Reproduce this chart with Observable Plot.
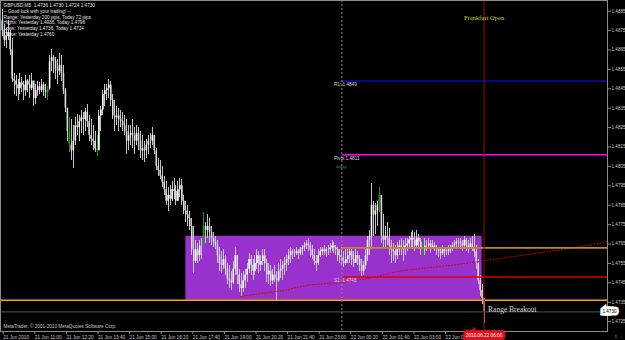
<!DOCTYPE html>
<html><head><meta charset="utf-8">
<script src="https://cdn.jsdelivr.net/npm/d3@7"></script>
<script src="https://cdn.jsdelivr.net/npm/@observablehq/plot@0.6"></script>
<style>
html,body{margin:0;padding:0;background:#000;}
#chart{width:625px;height:340px;overflow:hidden;}
</style></head><body><div id="chart"></div>
<script>
// ---- header text ----
const infoLines = [
  "GBPUSD,M5  1.4736 1.4730 1.4724 1.4730",
  "-- Good luck with your trading! --",
  "Range: Yesterday 200 pips, Today 72 pips",
  "Highs: Yesterday 1.4936, Today 1.4796",
  "Lows: Yesterday 1.4736, Today 1.4724",
  "Close: Yesterday 1.4760"
];
const copyright = "MetaTrader, © 2001-2010 MetaQuotes Software Corp.";

// ---- M5 bars (pips above 1.4700), first bar 21 Jun 2010 09:40 ----
const basePrice = 1.47;
const startTime = Date.UTC(2010, 5, 21, 9, 40);
const barMinutes = 5;
const firstOpenPips = 180;
const highPips = [
  186,178,176,180,175,171,153,152,150,153, 151,149,152,150,152,153,149,147,149,148,
  150,148,147,146,162,165,162,161,160,163, 162,157,145,131,130,129,126,130,132,131,
  134,133,135,137,131,129,126,123,121,134, 136,144,147,147,150,149,142,139,136,135,
  134,133,131,129,126,126,129,125,126,125, 123,121,118,119,121,122,125,121,114,109,
  108,105,100,97,94,95,97,99,95,97,        99,98,90,87,85,82,78,74,67,65,
  67,68,81,76,80,78,74,71,69,67,           63,61,62,59,55,54,51,56,63,59,
  52,50,51,52,55,60,59,57,59,62,           61,59,62,62,57,55,54,52,54,51,
  55,57,56,58,59,62,63,62,62,63,           62,63,64,66,67,68,66,64,62,59,
  62,63,63,64,63,64,65,67,66,64,           63,62,63,61,62,62,63,62,61,62,
  61,59,57,56,62,69,72,96,87,86,           87,94,86,80,74,76,73,67,65,64,
  66,67,68,67,68,68,69,71,72,71,           72,70,68,67,68,67,68,67,67,66,
  64,63,63,64,63,63,64,64,66,67,           68,68,68,67,69,68,67,68,69,70,
  64,57,49,44,37
];
const lowPips = [
  172,167,166,170,162,148,142,141,139,142, 143,139,141,143,140,144,136,137,141,142,
  143,141,140,139,144,154,153,150,147,152, 149,142,133,118,112,108,104,116,121,118,
  122,121,123,125,118,116,113,112,110,118, 123,131,136,139,140,136,129,123,126,123,
  125,123,121,111,113,116,114,111,116,113, 109,108,107,109,111,114,116,111,103,100,
  98,94,90,85,82,85,87,88,85,87,           89,85,80,76,74,72,59,50,55,55,
  56,57,66,65,68,65,64,63,62,55,           51,50,52,49,44,42,41,44,49,44,
  40,38,40,42,45,50,49,46,49,52,           50,51,54,51,45,44,43,44,45,36,
  45,47,46,49,51,54,55,57,58,59,           57,59,59,61,62,61,58,57,54,51,
  54,58,59,59,58,59,60,61,60,59,           56,55,54,53,54,55,55,54,53,55,
  54,51,48,49,52,56,59,62,69,70,           74,81,65,63,62,64,59,55,56,55,
  57,59,59,56,59,61,62,63,62,61,           63,62,59,58,59,61,62,60,62,61,
  59,58,57,59,58,59,59,60,61,62,           62,63,62,61,62,61,60,62,61,58,
  52,44,38,34,24
];
const closePips = [
  175,170,172,174,165,150,149,147,145,148, 147,144,149,147,145,149,140,144,146,144,
  147,144,143,145,159,161,159,155,154,157, 153,144,135,123,116,113,118,126,125,128,
  130,129,133,128,121,119,118,114,113,131, 134,142,144,145,147,139,131,130,131,129,
  128,126,123,118,121,122,121,118,122,118, 113,114,113,116,118,118,121,113,105,103,
  100,97,93,87,90,88,93,92,87,93,          95,87,82,80,78,74,62,56,62,59,
  64,64,74,72,74,71,68,66,64,59,           55,54,57,52,47,46,45,52,59,49,
  44,42,46,49,52,57,54,51,55,59,           54,56,59,55,49,51,46,49,47,46,
  51,52,54,55,57,59,61,60,60,61,           60,62,63,64,65,64,62,59,56,55,
  59,61,62,61,62,62,63,64,63,62,           59,58,56,55,57,59,61,57,55,59,
  57,54,51,54,59,67,69,85,80,82,           85,90,69,67,69,68,64,62,61,59,
  62,64,63,62,64,65,67,68,67,64,           68,66,63,62,64,64,65,63,64,63,
  62,61,60,62,61,61,62,63,64,65,           66,66,65,64,67,64,63,65,63,61,
  55,46,41,37,30
];
const greenBars = [23, 34, 48, 102, 191, 213];

// ---- levels ----
const levelNames = ["R1:", "Pivot", "S1:"];
const levelPrices = [1.4849, 1.4811, 1.4748];
const levelColors = ["#0c0ca0", "#ff00ff", "#e00000"];
const todayOpenPrice = 1.4763;
const yesterdayLow = 1.4736;
const currentPrice = 1.4730;
const rangeStart = Date.UTC(2010, 5, 21, 17, 25);
const rangeEnd = Date.UTC(2010, 5, 22, 5, 55);
const rangeHigh = 1.4769;
const rangeLow = 1.4736;
const dayStart = Date.UTC(2010, 5, 22, 0, 0);
const frankfurtOpen = Date.UTC(2010, 5, 22, 6, 0);

// ---- dotted red curve ----
const curveTimes = [
  Date.UTC(2010,5,21,19,45), Date.UTC(2010,5,21,21,30), Date.UTC(2010,5,21,22,40),
  Date.UTC(2010,5,21,23,55), Date.UTC(2010,5,22,1,0), Date.UTC(2010,5,22,2,25),
  Date.UTC(2010,5,22,4,35), Date.UTC(2010,5,22,5,50), Date.UTC(2010,5,22,7,30),
  Date.UTC(2010,5,22,9,15), Date.UTC(2010,5,22,11,10)
];
const curvePips = [38, 41, 44, 45, 47, 51, 54, 56, 59, 62, 66];

// ---- axes ----
const yTicks = [1.4725,1.4735,1.4745,1.4755,1.4765,1.4775,1.4785,1.4795,1.4805,1.4815,1.4825,1.4835,1.4845,1.4855,1.4865,1.4875,1.4885];
const xTickTimes = [
  Date.UTC(2010,5,21,9,40), Date.UTC(2010,5,21,11,0), Date.UTC(2010,5,21,12,20),
  Date.UTC(2010,5,21,13,40), Date.UTC(2010,5,21,15,0), Date.UTC(2010,5,21,16,20),
  Date.UTC(2010,5,21,17,40), Date.UTC(2010,5,21,19,0), Date.UTC(2010,5,21,20,20),
  Date.UTC(2010,5,21,21,40), Date.UTC(2010,5,21,23,0), Date.UTC(2010,5,22,0,20),
  Date.UTC(2010,5,22,1,40), Date.UTC(2010,5,22,3,0), Date.UTC(2010,5,22,4,20)
];
const xTickLabels = [
  "21 Jun 2010","21 Jun 11:00","21 Jun 12:20","21 Jun 13:40","21 Jun 15:00","21 Jun 16:20",
  "21 Jun 17:40","21 Jun 19:00","21 Jun 20:20","21 Jun 21:40","21 Jun 23:00","22 Jun 00:20",
  "22 Jun 01:40","22 Jun 03:00","22 Jun 04:20"
];
const xDomain = [new Date(Date.UTC(2010,5,21,9,35,40)), new Date(Date.UTC(2010,5,22,11,12,30))];
const yDomain = [1.47199, 1.48905];

// ---- build tables ----
const bars = highPips.map((h, i) => {
  const open = basePrice + (i ? closePips[i-1] : firstOpenPips) / 1e4;
  const close = basePrice + closePips[i] / 1e4;
  return {
    t: new Date(startTime + i * barMinutes * 60000),
    open, close,
    high: Math.max(basePrice + h / 1e4, open, close),
    low: Math.min(basePrice + lowPips[i] / 1e4, open, close),
    up: close >= open,
    green: greenBars.includes(i)
  };
});
const levels = levelNames.map((n, i) => ({name: n, price: levelPrices[i], color: levelColors[i]}));
const curve = curveTimes.map((t, i) => ({t: new Date(t), p: basePrice + curvePips[i] / 1e4}));
const tickLabelMap = new Map(xTickTimes.map((t, i) => [t, xTickLabels[i]]));
const sans = "'Liberation Sans',Arial,sans-serif";
const serif = "'Liberation Serif','DejaVu Serif',serif";
const fs = 4.7;
const endT = () => xDomain[1];

const chart = Plot.plot({
  width: 625, height: 340,
  marginLeft: 0, marginRight: 18, marginTop: 0, marginBottom: 9,
  style: {background: "#000", color: "#c4c4c4", fontFamily: sans, fontSize: fs + "px"},
  x: {type: "utc", domain: xDomain},
  y: {domain: yDomain},
  marks: [
    Plot.rect([{a: rangeStart, b: rangeEnd, lo: rangeLow, hi: rangeHigh}], {
      x1: d => new Date(d.a), x2: d => new Date(d.b), y1: "lo", y2: "hi", fill: "#9932cc"
    }),
    Plot.ruleX(bars, {x: "t", y1: "low", y2: "high",
      stroke: d => d.green ? "#1f8f1f" : "#c4c4c4", strokeWidth: 1, shapeRendering: "crispEdges"}),
    Plot.ruleX(bars, {x: "t", y1: "open", y2: "close",
      stroke: d => d.green ? "#22a022" : (d.up ? "#ffffff" : "#dcdcdc"), strokeWidth: 1.6}),
    Plot.line(curve, {x: "t", y: "p", stroke: "#d00000", strokeWidth: 1, strokeDasharray: "1,2"}),
    Plot.ruleY([currentPrice], {stroke: "#3c444e", strokeWidth: 1.2}),
    Plot.ruleY([yesterdayLow], {stroke: "#ffa500", strokeWidth: 1.5}),
    Plot.ruleY([todayOpenPrice], {x1: () => new Date(dayStart), x2: endT, stroke: "#c28a1c", strokeWidth: 1.6}),
    Plot.ruleY(levels, {y: "price", x1: () => new Date(dayStart), x2: endT, stroke: d => d.color, strokeWidth: 1.6}),
    Plot.ruleX([dayStart], {x: d => new Date(d), stroke: "#8a8a8a", strokeDasharray: "2,2", strokeWidth: 1}),
    Plot.ruleX([frankfurtOpen], {x: d => new Date(d), stroke: "#9a0a0a", strokeWidth: 1}),
    Plot.text(levels, {x: () => new Date(dayStart), y: "price", text: d => `${d.name} ${d.price.toFixed(4)}`,
      textAnchor: "start", dx: -8, dy: 3.5, fill: "#d4d4d4", fontSize: fs, fontFamily: sans}),
    Plot.text(["today"], {x: () => new Date(dayStart), y: () => levelPrices[1], text: d => d,
      textAnchor: "start", dx: -6, dy: 12, fill: "#3f8f9f", fontSize: 4.4, fontFamily: sans}),
    Plot.text(["Frankfurt Open"], {x: () => new Date(frankfurtOpen), frameAnchor: "top", text: d => d,
      dy: 15, fill: "#d8d800", fontSize: 6.5, fontFamily: serif}),
    Plot.text(["Range Breakout"], {x: () => new Date(frankfurtOpen), y: () => currentPrice, text: d => d,
      textAnchor: "start", dx: 4, dy: -2, fill: "#dcdcdc", fontSize: 7.5, fontFamily: serif}),
    Plot.text([infoLines.join("\n")], {frameAnchor: "top-left", text: d => d, lineAnchor: "top",
      dx: 3, dy: 2.5, lineHeight: 1.23, fill: "#e4e4e4", fontSize: fs, fontFamily: sans}),
    Plot.text([copyright], {frameAnchor: "bottom-left", text: d => d, dx: 3, dy: -4,
      fill: "#c8c8c8", fontSize: fs, fontFamily: sans}),
    Plot.frame({stroke: "#8c8c8c"}),
    Plot.axisY(yTicks, {anchor: "right", tickSize: 3, tickPadding: 1, tickFormat: d3.format(".4f"),
      fontSize: 4.6, fontFamily: sans, stroke: "#8c8c8c", fill: "#c8c8c8"}),
    Plot.axisX(xTickTimes.map(t => new Date(t)), {anchor: "bottom", tickSize: 3, tickPadding: 1,
      tickFormat: d => tickLabelMap.get(+d), textAnchor: "start", dx: 1,
      fontSize: fs, fontFamily: sans, stroke: "#8c8c8c", fill: "#c8c8c8"}),
    Plot.text([currentPrice], {y: d => d, frameAnchor: "right", text: d => d.toFixed(4),
      dx: 9, fill: "#000", stroke: "#ffffff", strokeWidth: 5, strokeLinejoin: "miter",
      fontSize: 4.6, fontFamily: sans}),
    Plot.text([frankfurtOpen], {x: d => new Date(d), frameAnchor: "bottom", text: d => d3.utcFormat("%Y.%m.%d %H:%M")(new Date(d)),
      dy: 5, fill: "#ffffff", stroke: "#e0101c", strokeWidth: 6, strokeLinejoin: "miter",
      fontSize: fs, fontFamily: sans})
  ]
});
document.getElementById("chart").appendChild(chart);
</script>
</body></html>
